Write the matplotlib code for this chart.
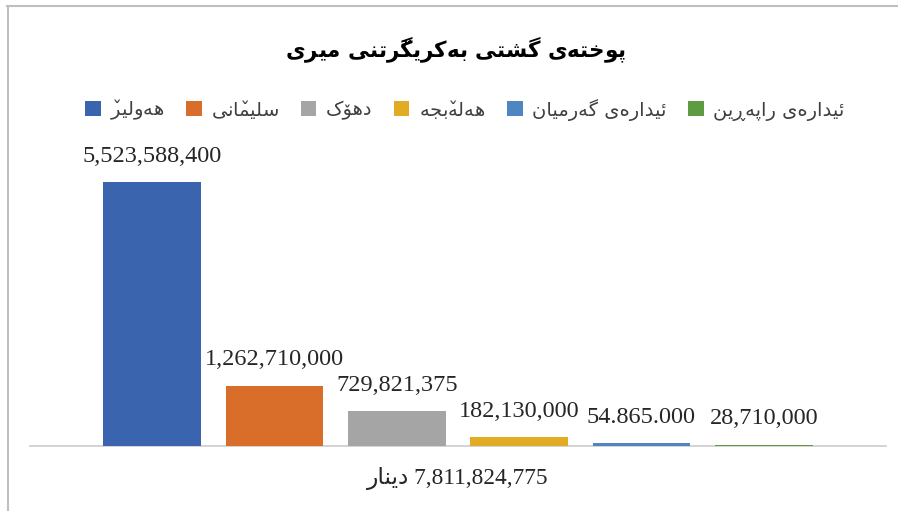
import matplotlib
matplotlib.use("Agg")
import matplotlib.pyplot as plt
from matplotlib.lines import Line2D

# Data
title = "پوختەی گشتی بەکرێگرتنی میری"
regions = ["هەولێر", "سلێمانی", "دهۆک", "هەڵەبجە", "ئیدارەی گەرمیان", "ئیدارەی راپەڕین"]
amounts = [5523588400, 1262710000, 729821375, 182130000, 54865000, 28710000]
amount_labels = ["5,523,588,400", "1,262,710,000", "729,821,375", "182,130,000", "54.865.000", "28,710,000"]
total_label = "7,811,824,775"
currency = "دینار"

colors = ["#3A64AD", "#D86E2A", "#A5A5A5", "#E2AB24", "#4E86C2", "#5F9B41"]

# glyphs in math mode use the text's own font
plt.rcParams["mathtext.default"] = "regular"


# matplotlib has no Arabic shaping / RTL layout, so pick the contextual
# presentation forms by hand and reverse into visual order.
def _f(*cps):
    return [chr(c) for c in cps]

DUAL = {  # isolated, final, initial, medial
    "ب": _f(0xFE8F, 0xFE90, 0xFE91, 0xFE92),
    "پ": _f(0xFB56, 0xFB57, 0xFB58, 0xFB59),
    "ت": _f(0xFE95, 0xFE96, 0xFE97, 0xFE98),
    "ج": _f(0xFE9D, 0xFE9E, 0xFE9F, 0xFEA0),
    "خ": _f(0xFEA5, 0xFEA6, 0xFEA7, 0xFEA8),
    "س": _f(0xFEB1, 0xFEB2, 0xFEB3, 0xFEB4),
    "ش": _f(0xFEB5, 0xFEB6, 0xFEB7, 0xFEB8),
    "ک": _f(0xFB8E, 0xFB8F, 0xFB90, 0xFB91),
    "گ": _f(0xFB92, 0xFB93, 0xFB94, 0xFB95),
    "ل": _f(0xFEDD, 0xFEDE, 0xFEDF, 0xFEE0),
    "م": _f(0xFEE1, 0xFEE2, 0xFEE3, 0xFEE4),
    "ن": _f(0xFEE5, 0xFEE6, 0xFEE7, 0xFEE8),
    "ه": _f(0xFEE9, 0xFEEA, 0xFEEB, 0xFEEC),
    "ی": _f(0xFBFC, 0xFBFD, 0xFBFE, 0xFBFF),
    "ئ": _f(0xFE89, 0xFE8A, 0xFE8B, 0xFE8C),
    # no presentation forms for these: joined base form with a v (caron) on top
    "ێ": ["\u06CE", "\u06CE", "$\\check{\uFBFE}$", "$\\check{\uFBFF}$"],
    "ڵ": ["\u06B5", "\u06B5", "$\\check{\uFEDF}$", "$\\check{\uFEE0}$"],
}
RIGHT = {  # isolated, final
    "ا": _f(0xFE8D, 0xFE8E),
    "د": _f(0xFEA9, 0xFEAA),
    "ر": _f(0xFEAD, 0xFEAE),
    "و": _f(0xFEED, 0xFEEE),
    "ۆ": _f(0xFBD9, 0xFBDA),
    "ە": _f(0xFEE9, 0xFEEA),
    "ڕ": ["\u0695", "\u0695"],
}


def shape(text):
    out = []
    for i, ch in enumerate(text):
        prev = text[i - 1] if i > 0 else ""
        nxt = text[i + 1] if i + 1 < len(text) else ""
        jp = prev in DUAL
        if ch in DUAL:
            jn = nxt in DUAL or nxt in RIGHT
            out.append(DUAL[ch][(1 if jp else 0) + (2 if jn else 0)])
        elif ch in RIGHT:
            out.append(RIGHT[ch][1 if jp else 0])
        else:
            out.append(ch)
    return "".join(reversed(out))


arabic = ["DejaVu Sans"]
serif = ["Liberation Serif", "DejaVu Sans"]

fig = plt.figure(figsize=(8.98, 5.11), dpi=100)
ax = fig.add_axes([30 / 898, 65 / 511, 856 / 898, 287 / 511])

handles = []
for i, (name, val) in enumerate(zip(regions, amounts)):
    b = ax.bar(i, val, width=0.8, color=colors[i], label=shape(name), zorder=3)
    ax.bar_label(b, labels=[amount_labels[i]], padding=11, fontsize=17.5,
                 family=serif, color="#262626")
    handles.append(b)

ax.set_xlim(-1.0, 6.0)
ax.set_ylim(0, 6e9)
ax.set_yticks([])
ax.set_xticks([2.5])
ax.set_xticklabels([shape(currency) + " " + total_label], family=serif,
                   fontsize=16.8, color="#262626")
ax.tick_params(axis="x", length=0, pad=15)
for s in ["top", "left", "right"]:
    ax.spines[s].set_visible(False)
ax.spines["bottom"].set_color("#D0D0D0")
ax.spines["bottom"].set_linewidth(1.3)
ax.spines["bottom"].set_zorder(1)

fig.text(456 / 898, 1 - 50 / 511, shape(title), ha="center", va="center",
         fontsize=15.5, fontweight="bold", family=arabic, color="#000000")

fig.legend(handles, [shape(r) for r in regions], loc="center",
           bbox_to_anchor=(465 / 898, 1 - 110 / 511), ncol=6, frameon=False,
           prop={"family": arabic, "size": 14}, handlelength=0.8,
           handleheight=0.8, handletextpad=0.5, columnspacing=1.1,
           labelcolor="#404040")

# chart border
fig.add_artist(Line2D([7.5 / 898, 7.5 / 898], [0, 1 - 6.5 / 511],
                      transform=fig.transFigure, color="#BFBFBF", lw=1.5))
fig.add_artist(Line2D([7 / 898, 1], [1 - 6.5 / 511, 1 - 6.5 / 511],
                      transform=fig.transFigure, color="#BFBFBF", lw=1.5))

fig.savefig("out.png", dpi=100)
